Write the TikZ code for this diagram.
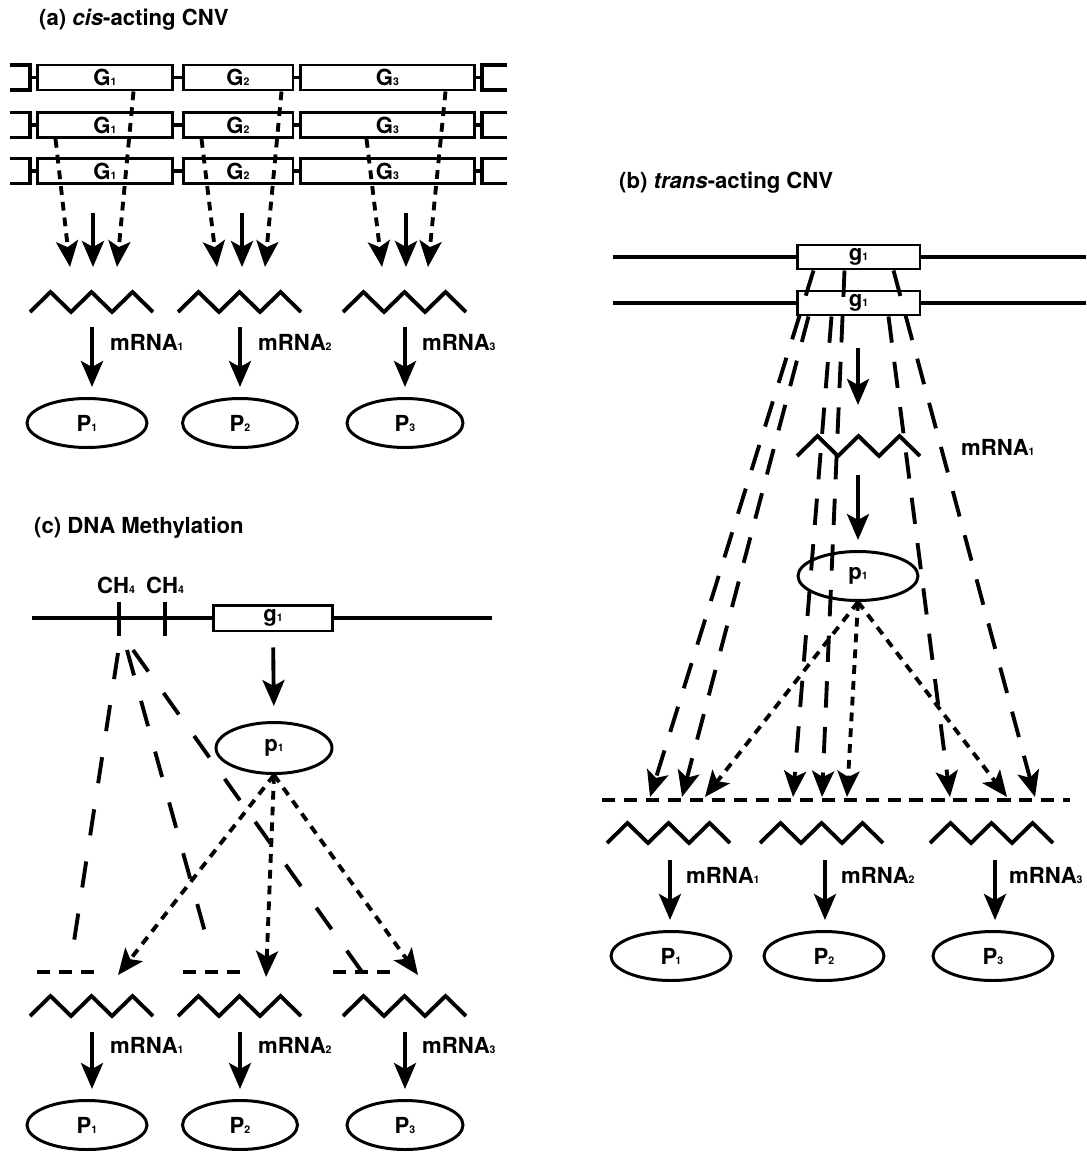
\documentclass[tikz,border=0pt]{standalone}
\usepackage{fontspec}
\setmainfont{TeX Gyre Heros}
\usetikzlibrary{arrows.meta,shapes.geometric,positioning}

\newcommand{\ssub}[1]{{\fontsize{6}{6}\selectfont #1}}

\tikzset{
  mrna/.pic={\draw[zig] (0,0) -- ++(20.5,-20) -- ++(20.5,20) -- ++(20.5,-20)
    -- ++(20.5,20) -- ++(20.5,-20) -- ++(20.5,20);}
}

\begin{document}
\begin{tikzpicture}[x=0.02cm,y=-0.02cm,
  every node/.style={font=\fontsize{12.6}{15}\selectfont\bfseries},
  chrom/.style={line width=2pt},
  genebox/.style={draw,line width=1.7pt,minimum height=0.5cm,inner sep=0pt},
  prot/.style={draw,ellipse,line width=1.7pt,minimum width=2.4cm,minimum height=0.98cm,inner sep=0pt},
  zig/.style={line width=2.2pt,line join=miter},
  arr/.style={line width=2.2pt,-{Stealth[length=5.2mm,width=4.4mm,inset=1.2mm]}},
  dotarr/.style={arr,dash pattern=on 5pt off 4pt},
  longarr/.style={arr,dash pattern=on 15pt off 11pt},
  longdash/.style={line width=2.2pt,dash pattern=on 15pt off 15pt},
  shortdash/.style={line width=2.2pt,dash pattern=on 7.5pt off 5pt}]
\useasboundingbox (0,0) rectangle (1086,1152);

% ---------------- (a) cis-acting CNV ----------------
\node[anchor=west] (titleA) at (33,20) {(a) \textit{cis}-acting CNV};
% row 1
\node[genebox,minimum width=2.72cm] (r1G1) at (105,77.5) {G\ssub{1}};
\node[genebox,minimum width=2.2cm] (r1G2) at (238,77.5) {G\ssub{2}};
\node[genebox,minimum width=3.5cm] (r1G3) at (387.5,77.5) {G\ssub{3}};
\draw[chrom] (10,65) -- (30,65) -- (30,90) -- (10,90);
\draw[chrom] (30,77.5) -- (r1G1.west);
\draw[chrom] (r1G1.east) -- (r1G2.west);
\draw[chrom] (r1G2.east) -- (r1G3.west);
\draw[chrom] (r1G3.east) -- (482,77.5);
\draw[chrom] (507,65) -- (482,65) -- (482,90) -- (507,90);
% row 2
\node[genebox,minimum width=2.72cm] (r2G1) at (105,125) {G\ssub{1}};
\node[genebox,minimum width=2.2cm] (r2G2) at (238,125) {G\ssub{2}};
\node[genebox,minimum width=3.5cm] (r2G3) at (387.5,125) {G\ssub{3}};
\draw[chrom] (10,112.5) -- (30,112.5) -- (30,137.5) -- (10,137.5);
\draw[chrom] (30,125) -- (r2G1.west);
\draw[chrom] (r2G1.east) -- (r2G2.west);
\draw[chrom] (r2G2.east) -- (r2G3.west);
\draw[chrom] (r2G3.east) -- (482,125);
\draw[chrom] (507,112.5) -- (482,112.5) -- (482,137.5) -- (507,137.5);
% row 3
\node[genebox,minimum width=2.72cm] (r3G1) at (105,171) {G\ssub{1}};
\node[genebox,minimum width=2.2cm] (r3G2) at (238,171) {G\ssub{2}};
\node[genebox,minimum width=3.5cm] (r3G3) at (387.5,171) {G\ssub{3}};
\draw[chrom] (10,158.5) -- (30,158.5) -- (30,183.5) -- (10,183.5);
\draw[chrom] (30,171) -- (r3G1.west);
\draw[chrom] (r3G1.east) -- (r3G2.west);
\draw[chrom] (r3G2.east) -- (r3G3.west);
\draw[chrom] (r3G3.east) -- (482,171);
\draw[chrom] (507,158.5) -- (482,158.5) -- (482,183.5) -- (507,183.5);
% transcription of the copies
\coordinate (s1) at (93,213);
\coordinate (s2) at (242,213);
\coordinate (s3) at (406,213);
\coordinate (t1a) at (70,267);
\coordinate (t1b) at (93,267);
\coordinate (t1c) at (117,267);
\coordinate (t2a) at (217,267);
\coordinate (t2b) at (242,267);
\coordinate (t2c) at (265,267);
\coordinate (t3a) at (382,267);
\coordinate (t3b) at (406,267);
\coordinate (t3c) at (428,267);
\draw[dotarr] ([xshift=0.4cm]r2G1.south west) -- (t1a);
\draw[arr] (s1) -- (t1b);
\draw[dotarr] ([xshift=1.96cm]r1G1.south west) -- (t1c);
\draw[dotarr] ([xshift=0.4cm]r2G2.south west) -- (t2a);
\draw[arr] (s2) -- (t2b);
\draw[dotarr] ([xshift=2cm]r1G2.south west) -- (t2c);
\draw[dotarr] ([xshift=1.36cm]r2G3.south west) -- (t3a);
\draw[arr] (s3) -- (t3b);
\draw[dotarr] ([xshift=2.94cm]r1G3.south west) -- (t3c);
% mRNAs and proteins
\pic at (30,312) {mrna};
\pic at (178,312) {mrna};
\pic at (343,312) {mrna};
\coordinate (ma1) at (92,327);
\coordinate (ma2) at (240,327);
\coordinate (ma3) at (405,327);
\node[anchor=west] (la1) at (104,342) {mRNA\ssub{1}};
\node[anchor=west] (la2) at (252,342) {mRNA\ssub{2}};
\node[anchor=west] (la3) at (416,342) {mRNA\ssub{3}};
\node[prot] (Pa1) at (87,423) {P\ssub{1}};
\node[prot,minimum width=2.3cm] (Pa2) at (240,423) {P\ssub{2}};
\node[prot,minimum width=2.32cm] (Pa3) at (405,423) {P\ssub{3}};
\draw[arr,shorten >=0.2cm] (ma1) -- (Pa1.north -| ma1);
\draw[arr,shorten >=0.2cm] (ma2) -- (Pa2.north -| ma2);
\draw[arr,shorten >=0.2cm] (ma3) -- (Pa3.north -| ma3);

% ---------------- (c) DNA Methylation ----------------
\node[anchor=west] (titleC) at (28,528) {(c) DNA Methylation};
\node[genebox,minimum width=2.4cm,minimum height=0.52cm] (gc) at (273,618) {g\ssub{1}};
\draw[chrom] (32,618) -- (gc.west);
\draw[chrom] (gc.east) -- (492,618);
\draw[chrom] (119,602) -- (119,636);
\draw[chrom] (165,602) -- (165,636);
\node (ch1) at (116,585) {CH\ssub{4}};
\node (ch2) at (165,585) {CH\ssub{4}};
\node[prot,minimum width=2.32cm,minimum height=1.02cm] (pc) at (274,748) {p\ssub{1}};
\draw[arr,shorten <=0.3cm,shorten >=0.3cm] (gc.south) -- (pc.north);
% methylation silencing
\coordinate (m1) at (118,653);
\coordinate (m2) at (127,650);
\coordinate (m3) at (133,650);
\coordinate (e1) at (73,948);
\coordinate (e2) at (208,943);
\coordinate (e3) at (362,972);
\draw[longdash] (m1) -- (e1);
\draw[longdash] (m2) -- (e2);
\draw[longdash] (m3) -- (e3);
\draw[shortdash] (37,972) -- (100,972);
\draw[shortdash] (183,972) -- (247,972);
\draw[shortdash] (333,972) -- (397,972);
\coordinate (tc1) at (118,975);
\coordinate (tc2) at (266,977);
\coordinate (tc3) at (418,975);
\draw[dotarr] (pc.south) -- (tc1);
\draw[dotarr] (pc.south) -- (tc2);
\draw[dotarr] (pc.south) -- (tc3);
% mRNAs and proteins
\pic at (30,1016) {mrna};
\pic at (178,1016) {mrna};
\pic at (343,1016) {mrna};
\coordinate (mc1) at (92,1032);
\coordinate (mc2) at (240,1032);
\coordinate (mc3) at (405,1032);
\node[anchor=west] (lc1) at (104,1045) {mRNA\ssub{1}};
\node[anchor=west] (lc2) at (252,1045) {mRNA\ssub{2}};
\node[anchor=west] (lc3) at (416,1045) {mRNA\ssub{3}};
\node[prot] (Pc1) at (87,1125) {P\ssub{1}};
\node[prot,minimum width=2.3cm] (Pc2) at (240,1125) {P\ssub{2}};
\node[prot,minimum width=2.32cm] (Pc3) at (405,1125) {P\ssub{3}};
\draw[arr,shorten >=0.2cm] (mc1) -- (Pc1.north -| mc1);
\draw[arr,shorten >=0.2cm] (mc2) -- (Pc2.north -| mc2);
\draw[arr,shorten >=0.2cm] (mc3) -- (Pc3.north -| mc3);

% ---------------- (b) trans-acting CNV ----------------
\node[anchor=west] (titleB) at (613,183) {(b) \textit{trans}-acting CNV};
\node[genebox,minimum width=2.46cm,minimum height=0.48cm] (gb1) at (858.5,257) {g\ssub{1}};
\node[genebox,minimum width=2.46cm,minimum height=0.48cm] (gb2) at (858.5,303) {g\ssub{1}};
\draw[chrom] (613,257) -- (gb1.west);
\draw[chrom] (gb1.east) -- (1086,257);
\draw[chrom] (613,303) -- (gb2.west);
\draw[chrom] (gb2.east) -- (1086,303);
% target genes
\coordinate (b1) at (650,797);
\coordinate (b2) at (682,797);
\coordinate (b3) at (705,797);
\coordinate (b4) at (793,797);
\coordinate (b5) at (822,797);
\coordinate (b6) at (847,797);
\coordinate (b7) at (950,797);
\coordinate (b8) at (1007,797);
\coordinate (b9) at (1035,797);
\draw[longarr] ([xshift=0.36cm]gb1.south west) -- (b1);
\draw[longarr] ([xshift=0.26cm]gb2.south west) -- (b2);
\draw[longarr] ([xshift=0.72cm]gb2.south west) -- (b4);
\draw[longarr] ([xshift=0.98cm]gb1.south west) -- (b5);
\draw[longarr] ([xshift=1.86cm]gb2.south west) -- (b7);
\draw[longarr] ([xshift=1.96cm]gb1.south west) -- (b9);
\draw[shortdash] (602,800) -- (1070,800);
% the trans product
\coordinate (sb1) at (858,348);
\coordinate (tb1) at (858,405);
\draw[arr] (sb1) -- (tb1);
\pic at (797,456) {mrna};
\node[anchor=west] (lb0) at (955,447) {mRNA\ssub{1}};
\coordinate (sb2) at (858,475);
\node[prot] (pb) at (858,576) {p\ssub{1}};
\draw[arr,shorten >=0.2cm] (sb2) -- (pb.north);
\draw[dotarr] (pb.south) -- (b3);
\draw[dotarr] (pb.south) -- (b6);
\draw[dotarr] (pb.south) -- (b8);
% mRNAs and proteins
\pic at (607,843) {mrna};
\pic at (760,843) {mrna};
\pic at (930,843) {mrna};
\coordinate (mb1) at (670,860);
\coordinate (mb2) at (825,860);
\coordinate (mb3) at (995,860);
\node[anchor=west] (lb1) at (680,875) {mRNA\ssub{1}};
\node[anchor=west] (lb2) at (835,875) {mRNA\ssub{2}};
\node[anchor=west] (lb3) at (1003,875) {mRNA\ssub{3}};
\node[prot] (Pb1) at (671,956) {P\ssub{1}};
\node[prot] (Pb2) at (824,956) {P\ssub{2}};
\node[prot] (Pb3) at (993,956) {P\ssub{3}};
\draw[arr,shorten >=0.2cm] (mb1) -- (Pb1.north -| mb1);
\draw[arr,shorten >=0.2cm] (mb2) -- (Pb2.north -| mb2);
\draw[arr,shorten >=0.2cm] (mb3) -- (Pb3.north -| mb3);
\end{tikzpicture}
\end{document}
